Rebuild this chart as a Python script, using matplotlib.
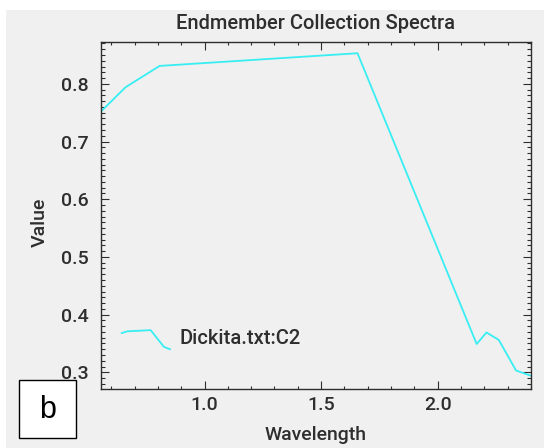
import matplotlib
matplotlib.use("Agg")
import matplotlib.pyplot as plt
from matplotlib.patches import Rectangle
from matplotlib.ticker import MultipleLocator, FixedLocator

# --- data (ASTER band centres, um) ---
wavelength = [0.556, 0.661, 0.807, 1.656, 2.167, 2.209, 2.262, 2.336, 2.400]
value = [0.752, 0.794, 0.831, 0.853, 0.349, 0.369, 0.356, 0.303, 0.294]

# small legend glyph drawn by ENVI next to the name
legend_x = [0.645, 0.669, 0.769, 0.826, 0.852]
legend_y = [0.368, 0.371, 0.373, 0.344, 0.340]
legend_name = "Dickita.txt:C2"

x_major = [1.0, 1.5, 2.0]
y_major = [0.3, 0.4, 0.5, 0.6, 0.7, 0.8]

# --- style ---
BG = "#f0f0f0"
INK = "#2e2e2e"
LINE = "#38eef2"
FONT = ["Roboto", "DejaVu Sans"]

plt.rcParams["font.family"] = FONT
plt.rcParams["font.weight"] = "medium"
plt.rcParams["axes.titleweight"] = "medium"
plt.rcParams["axes.labelweight"] = "medium"

W, H = 544, 448
fig = plt.figure(figsize=(W / 100, H / 100), dpi=100, facecolor="white")
# grey panel (white strip at top/left like the screenshot)
fig.patches.append(Rectangle((6 / W, 0), 1 - 6 / W, 1 - 10 / H, transform=fig.transFigure,
                             facecolor=BG, edgecolor="none", zorder=-10))

ax = fig.add_axes([101 / W, 1 - 389.3 / H, 430 / W, 347.6 / H])
ax.set_facecolor(BG)

ax.plot(wavelength, value, color=LINE, lw=1.3)
ax.plot(legend_x, legend_y, color=LINE, lw=1.3)
ax.text(0.892, 0.358, legend_name, color=INK, fontsize=14.5, va="center", ha="left")

ax.set_xlim(min(wavelength), max(wavelength))
ax.set_ylim(0.2705, 0.873)

ax.xaxis.set_major_locator(FixedLocator(x_major))
ax.xaxis.set_minor_locator(MultipleLocator(0.1))
ax.yaxis.set_major_locator(FixedLocator(y_major))
ax.yaxis.set_minor_locator(MultipleLocator(0.01))
ax.xaxis.set_major_formatter(plt.FuncFormatter(lambda v, p: f"{v:.1f}"))
ax.yaxis.set_major_formatter(plt.FuncFormatter(lambda v, p: f"{v:.1f}"))

ax.tick_params(which="both", direction="in", top=True, right=True, color=INK, width=0.8,
               labelcolor=INK, labelsize=14)
ax.tick_params(axis="x", which="major", length=6, pad=5)
ax.tick_params(axis="x", which="minor", length=2.2)
ax.tick_params(axis="y", which="major", length=6, pad=9)
ax.tick_params(axis="y", which="minor", length=3)

for s in ax.spines.values():
    s.set_color(INK)
    s.set_linewidth(1.0)

ax.set_title("Endmember Collection Spectra", color=INK, fontsize=14.5, pad=9)
ax.set_xlabel("Wavelength", color=INK, fontsize=14)
ax.set_ylabel("Value", color=INK, fontsize=14)
ax.xaxis.set_label_coords(0.5, -0.106)
ax.yaxis.set_label_coords(-0.121, 0.48)

# panel letter box
fig.patches.append(Rectangle((19 / W, 1 - 438 / H), 57 / W, 58 / H, transform=fig.transFigure,
                             facecolor="white", edgecolor="black", lw=1.0, zorder=5))
fig.text(48 / W, 1 - 410 / H, "b", fontsize=22, family="Liberation Sans", weight="normal",
         color="black", ha="center", va="center", zorder=6)

fig.savefig("out.png", dpi=100, facecolor=fig.get_facecolor())
